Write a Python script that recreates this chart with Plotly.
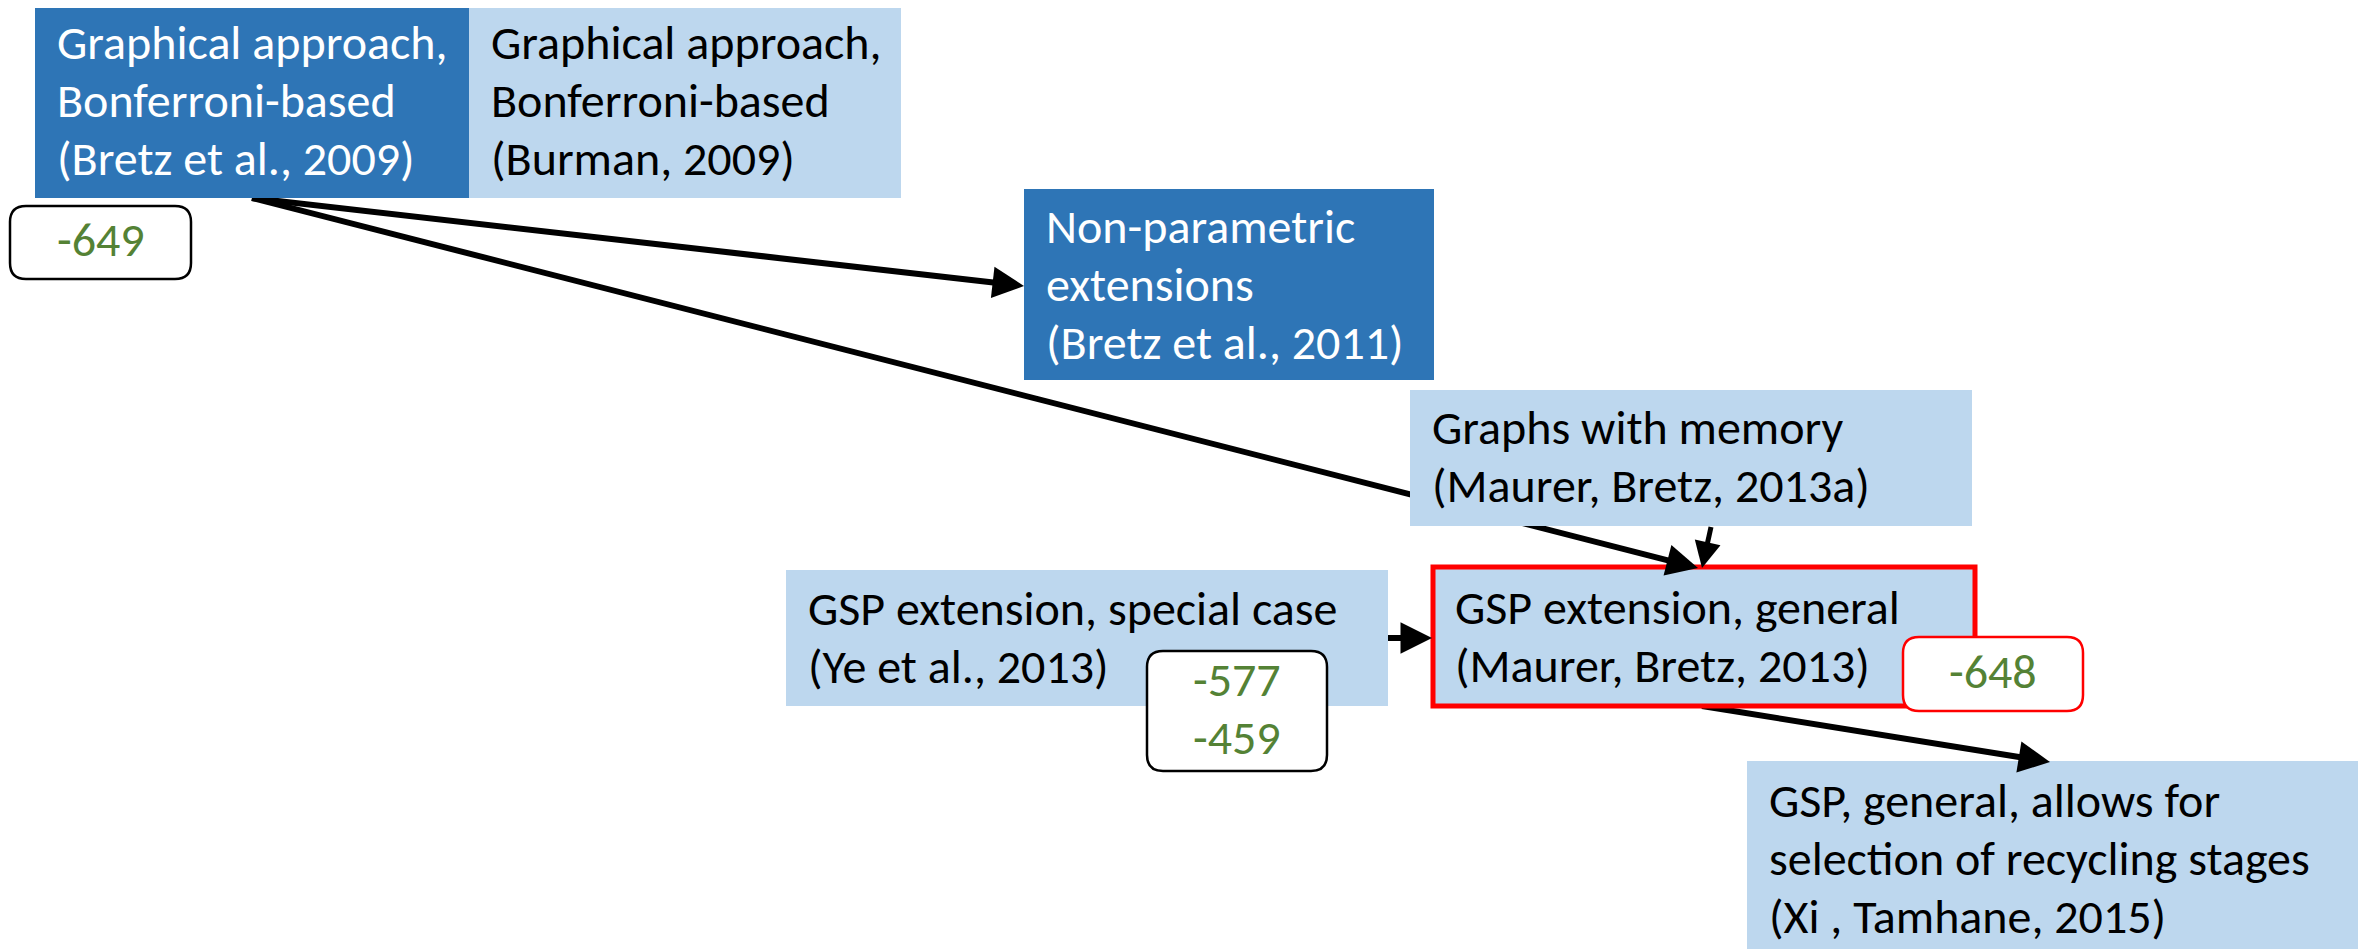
import math
import plotly.graph_objects as go

# ---- content ----
box_texts = [
    "Graphical approach,<br>Bonferroni-based<br>(Bretz et al., 2009)",
    "Graphical approach,<br>Bonferroni-based<br>(Burman, 2009)",
    "Non-parametric<br>extensions<br>(Bretz et al., 2011)",
    "Graphs with memory<br>(Maurer, Bretz, 2013a)",
    "GSP extension, special case<br>(Ye et al., 2013)",
    "GSP extension, general<br>(Maurer, Bretz, 2013)",
    "GSP, general, allows for<br>selection of recycling stages<br>(Xi , Tamhane, 2015)",
]
label_texts = ["-649", "-577<br>-459", "-648"]

# ---- layout (page pixel space) ----
W, H = 2366, 949
PAGE_OFF = 8  # default body margin of the html page
box_x0 = [35, 469, 1024, 1410, 786, 1433, 1747]
box_x1 = [469, 901, 1434, 1972, 1388, 1975, 2380]
box_y0 = [5, 5, 189, 390, 570, 567, 761]
box_y1 = [198, 198, 380, 526, 706, 706, 960]
box_text_y = [103, 103, 287, 459, 640, 639, 861]
box_fill = ["#2E75B6", "#BDD7EE", "#2E75B6", "#BDD7EE", "#BDD7EE", "#BDD7EE", "#BDD7EE"]
box_font = ["white", "black", "white", "black", "black", "black", "black"]
box_border = [None, None, None, None, None, "#FF0000", None]

label_x0 = [10, 1147, 1903]
label_x1 = [191, 1327, 2083]
label_y0 = [206, 651, 637]
label_y1 = [279, 771, 711]
label_border = ["black", "black", "#FF0000"]

arrow_from = [(252, 198), (252, 198), (1711, 527), (1388, 638), (1702, 706)]
arrow_to = [(1024, 286), (1698, 568), (1702, 568), (1432, 638), (2050, 762)]
arrow_width = [6, 6, 5, 6, 6]

FONT = "Carlito, Lato, Liberation Sans Narrow, sans-serif"
FS = 48
LINE = 58
YOFF = -3
GREEN = "#548235"

fig = go.Figure()
shapes = []
annotations = []


def add_lines(text, x, yc, xanchor, color):
    lines = text.split("<br>")
    n = len(lines)
    for k, ln in enumerate(lines):
        annotations.append(dict(x=x, y=yc + (k - (n - 1) / 2) * LINE + YOFF, xref="x", yref="y",
                                xanchor=xanchor, yanchor="middle", text=ln, showarrow=False,
                                font=dict(family=FONT, size=FS, color=color)))


# arrow lines (below boxes)
HEAD = 22
for (x0, y0), (x1, y1), w in zip(arrow_from, arrow_to, arrow_width):
    dx, dy = x1 - x0, y1 - y0
    L = math.hypot(dx, dy)
    ux, uy = dx / L, dy / L
    bx, by = x1 - ux * HEAD, y1 - uy * HEAD
    shapes.append(dict(type="line", x0=x0, y0=y0, x1=bx, y1=by, xref="x", yref="y",
                       line=dict(color="black", width=w), layer="above"))
    annotations.append(dict(x=x1, y=y1, ax=bx, ay=by, xref="x", yref="y", axref="x", ayref="y",
                            text="", showarrow=True, arrowhead=2, arrowsize=1.05,
                            arrowwidth=w, arrowcolor="black", standoff=0))

# boxes
for i in range(len(box_texts)):
    bc = box_border[i]
    shapes.append(dict(type="rect", x0=box_x0[i], x1=box_x1[i], y0=box_y0[i], y1=box_y1[i],
                       xref="x", yref="y", fillcolor=box_fill[i], layer="above",
                       line=dict(color=bc if bc else box_fill[i], width=5 if bc else 0)))
    add_lines(box_texts[i], box_x0[i] + 20, box_text_y[i], "left", box_font[i])


def rounded(x0, y0, x1, y1, r):
    return (f"M{x0+r},{y0} L{x1-r},{y0} Q{x1},{y0} {x1},{y0+r} L{x1},{y1-r} "
            f"Q{x1},{y1} {x1-r},{y1} L{x0+r},{y1} Q{x0},{y1} {x0},{y1-r} "
            f"L{x0},{y0+r} Q{x0},{y0} {x0+r},{y0} Z")


for i in range(len(label_texts)):
    shapes.append(dict(type="path", path=rounded(label_x0[i], label_y0[i], label_x1[i], label_y1[i], 16),
                       xref="x", yref="y", fillcolor="white", layer="above",
                       line=dict(color=label_border[i], width=2.5)))
    add_lines(label_texts[i], (label_x0[i] + label_x1[i]) / 2, (label_y0[i] + label_y1[i]) / 2,
              "center", GREEN)

fig.update_layout(
    width=W, height=H,
    margin=dict(l=0, r=0, t=0, b=0),
    paper_bgcolor="white", plot_bgcolor="white",
    xaxis=dict(range=[PAGE_OFF, W + PAGE_OFF], visible=False, fixedrange=True),
    yaxis=dict(range=[H + PAGE_OFF, PAGE_OFF], visible=False, fixedrange=True),
    shapes=shapes, annotations=annotations, showlegend=False,
)

fig.write_html("out.html")
